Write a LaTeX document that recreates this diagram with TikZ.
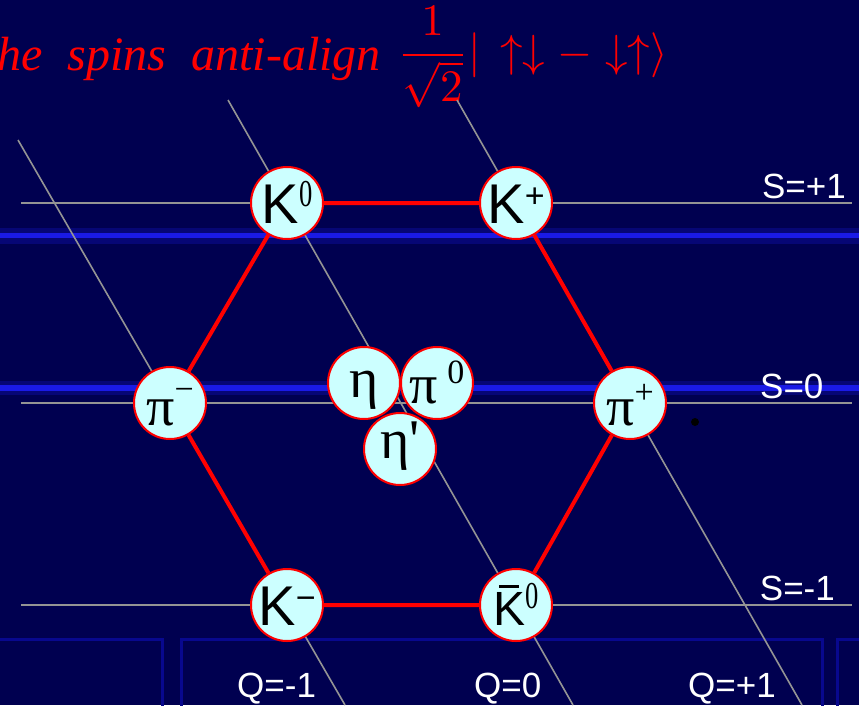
\documentclass[tikz,border=0pt]{standalone}
\usepackage[no-math]{fontspec}
\setmainfont{Liberation Serif}
\setsansfont{Liberation Sans}
\newfontfamily\titlefont[WordSpace=2.1]{Liberation Serif}
\usetikzlibrary{positioning}
\definecolor{slide}{HTML}{000050}
\definecolor{glow}{HTML}{1A1AE6}
\definecolor{gridgray}{HTML}{949494}
\definecolor{bubble}{HTML}{CCFFFF}
\definecolor{boxblue}{HTML}{08088E}

% superscripts of the meson names
\newcommand{\kzero}{\raisebox{17pt}{\fontsize{38}{38}\selectfont\scalebox{0.7}[1]{0}}}
\newcommand{\ksign}[1]{\raisebox{16pt}{\sffamily\fontsize{34}{34}\selectfont #1}}
\newcommand{\pisign}[2]{\raisebox{#1}{\fontsize{34}{34}\selectfont #2}}

\begin{document}
\begin{tikzpicture}[x=1pt,y=-1pt,
  meson/.style={circle,draw=red,line width=2pt,fill=bubble,minimum size=72pt,inner sep=0pt,
    font=\fontsize{56}{56}\selectfont,text height=40pt,text depth=0pt},
  gridline/.style={gridgray,line width=1.6pt},
  hexedge/.style={red,line width=4pt},
  axislabel/.style={white,font=\sffamily\fontsize{35}{35}\selectfont,inner sep=0pt}]

  % Slide background
  \useasboundingbox (0,0) rectangle (859,705);
  \clip (0,0) rectangle (859,705);
  \fill[slide] (0,0) rectangle (859,705);
  \fill[glow,opacity=0.25] (0,228) rectangle (859,244);
  \fill[glow] (0,233) rectangle (859,238);
  \fill[glow,opacity=0.25] (0,381) rectangle (859,395);
  \fill[glow] (0,385) rectangle (859,391);
  \draw[boxblue,line width=3pt] (-10,639) rectangle (162,720);
  \draw[boxblue,line width=3pt] (181,639) rectangle (822,720);
  \draw[boxblue,line width=3pt] (837,639) rectangle (880,720);

  % Title
  \node[anchor=base west,inner sep=0pt,text=red,font={\titlefont\fontsize{48}{48}\selectfont\itshape}] (title) at (-3,70) {he spins anti-align};
  \node[anchor=base west,inner sep=0pt,text=red] (state) at (397,66)
    {\scalebox{4.5}{$\displaystyle\frac{1}{\sqrt{2}}|\,\uparrow\downarrow-\downarrow\uparrow\rangle$}};

  % Strangeness lines
  \coordinate (s1a) at (21,203); \coordinate (s1b) at (852,203);
  \coordinate (s0a) at (21,403); \coordinate (s0b) at (852,403);
  \coordinate (s-1a) at (21,605); \coordinate (s-1b) at (852,605);
  \draw[gridline] (s1a) -- (s1b);
  \draw[gridline] (s0a) -- (s0b);
  \draw[gridline] (s-1a) -- (s-1b);

  % Charge lines
  \coordinate (q-1a) at (18,140); \coordinate (q-1b) at (345,705);
  \coordinate (q0a) at (228,100); \coordinate (q0b) at (573,705);
  \coordinate (q1a) at (457,100); \coordinate (q1b) at (802,705);
  \draw[gridline] (q-1a) -- (q-1b);
  \draw[gridline] (q0a) -- (q0b);
  \draw[gridline] (q1a) -- (q1b);

  % Octet of mesons
  \node[meson] (K0) at (287,203) {{\sffamily K}\kzero};
  \node[meson] (Kp) at (516,203) {{\sffamily K}\ksign{+}};
  \node[meson,text height=44pt] (pip) at (630,403) {π\pisign{22pt}{+}};
  \node[meson] (Kbar) at (516,605)
    {{\sffamily\fontsize{48}{48}\selectfont\ooalign{K\cr\hidewidth\rule[37pt]{20pt}{3pt}\hidewidth\cr}}\kzero};
  \node[meson] (Km) at (287,605) {{\sffamily K}\ksign{−}};
  \node[meson,text height=44pt] (pim) at (170,403) {π\pisign{25pt}{−}};
  \draw[hexedge] (K0) -- (Kp) -- (pip) -- (Kbar) -- (Km) -- (pim) -- (K0);

  % Centre of the octet
  \node[meson,text height=28pt] (eta) at (364,383) {η};
  \node[meson] (pizero) at (437,383) {π\,\pisign{20pt}{0}};
  \node[meson,text height=18pt] (etap) at (400,449) {η\textquotesingle};

  % Axis labels
  \node[axislabel,anchor=base east] (splus) at (846,198) {S=+1};
  \node[axislabel,anchor=base west] (szero) at (760,398) {S=0};
  \node[axislabel,anchor=base east] (sminus) at (835,600) {S=-1};
  \node[axislabel,anchor=base west] (qminus) at (237,697) {Q=-1};
  \node[axislabel,anchor=base west] (qzero) at (474,697) {Q=0};
  \node[axislabel,anchor=base west] (qplus) at (688,697) {Q=+1};

  \fill[black] (695,422) circle[radius=4pt];
\end{tikzpicture}
\end{document}
